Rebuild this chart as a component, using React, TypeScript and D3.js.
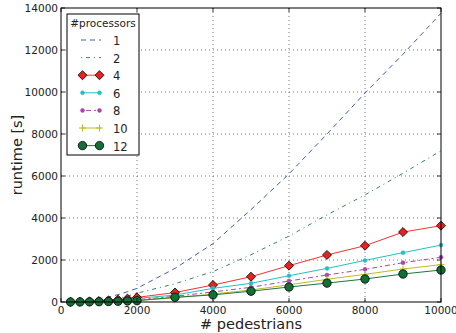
import React from 'react';
import * as d3 from 'd3';

// # pedestrians
const pedestrians = [250, 500, 750, 1000, 1250, 1500, 1750, 2000, 3000, 4000, 5000, 6000, 7000, 8000, 9000, 10000];

// runtime [s] per processor count
const p1 = [10, 35, 80, 150, 240, 350, 490, 650, 1600, 2780, 4400, 6100, 8000, 9950, 11800, 13750];
const p2 = [5, 18, 40, 70, 110, 170, 280, 420, 870, 1450, 2250, 3140, 4150, 5100, 6130, 7200];
const p4 = [5, 12, 25, 45, 75, 110, 160, 220, 450, 810, 1205, 1730, 2240, 2680, 3330, 3635];
const p6 = [4, 9, 18, 32, 50, 80, 120, 170, 330, 650, 890, 1250, 1600, 1980, 2350, 2710];
const p8 = [3, 7, 14, 25, 40, 60, 85, 110, 270, 480, 700, 1000, 1285, 1555, 1870, 2130];
const p10 = [2, 5, 10, 18, 30, 45, 62, 80, 200, 380, 570, 820, 1080, 1317, 1570, 1780];
const p12 = [2, 4, 8, 15, 25, 35, 50, 62, 224, 340, 515, 714, 900, 1095, 1333, 1524];

const xTicks = [0, 2000, 4000, 6000, 8000, 10000];
const yTicks = [0, 2000, 4000, 6000, 8000, 10000, 12000, 14000];

type Marker = 'none' | 'diamond' | 'dot' | 'plus' | 'circle';
const seriesList: { label: string; values: number[]; color: string; dash: string; marker: Marker; fill: string }[] = [
  { label: '1', values: p1, color: '#3f5db5', dash: '5,4', marker: 'none', fill: '' },
  { label: '2', values: p2, color: '#2e8b57', dash: '1,4,4,4', marker: 'none', fill: '' },
  { label: '4', values: p4, color: '#ff3030', dash: '', marker: 'diamond', fill: '#e82020' },
  { label: '6', values: p6, color: '#22c0c0', dash: '', marker: 'dot', fill: '#22c0c0' },
  { label: '8', values: p8, color: '#aa44aa', dash: '2,3,5,3', marker: 'dot', fill: '#aa44aa' },
  { label: '10', values: p10, color: '#bcbc22', dash: '', marker: 'plus', fill: '#bcbc22' },
  { label: '12', values: p12, color: '#1b7a3a', dash: '', marker: 'circle', fill: '#117035' },
];

const W = 456;
const H = 333;
const left = 61;
const right = 441;
const top = 8;
const bottom = 302;
const font = 'DejaVu Sans, sans-serif';

function MarkerShape({ type, x, y, color, fill }: { type: Marker; x: number; y: number; color: string; fill: string }) {
  if (type === 'diamond') {
    const p = d3.symbol(d3.symbolDiamond2, 52)();
    return <path d={p as string} transform={`translate(${x},${y})`} fill={fill} stroke="#000" strokeWidth={0.8} />;
  }
  if (type === 'circle') return <circle cx={x} cy={y} r={4.2} fill={fill} stroke="#000" strokeWidth={0.8} />;
  if (type === 'dot') return <circle cx={x} cy={y} r={2} fill={fill} stroke={fill} strokeWidth={0.5} />;
  if (type === 'plus')
    return (
      <g stroke={color} strokeWidth={1}>
        <line x1={x - 3.5} x2={x + 3.5} y1={y} y2={y} />
        <line x1={x} x2={x} y1={y - 3.5} y2={y + 3.5} />
      </g>
    );
  return null;
}

export default function App() {
  const x = d3.scaleLinear().domain([0, 10000]).range([left, right]);
  const y = d3.scaleLinear().domain([0, 14000]).range([bottom, top]);
  const line = d3
    .line<number>()
    .x((_, i) => x(pedestrians[i]))
    .y((d) => y(d));

  const legX = 67;
  const legY = 14;
  const rowH = 17.6;

  return (
    <div style={{ position: 'absolute', left: 0, top: 0 }}>
      <svg width={W} height={H} style={{ display: 'block', background: '#fff' }} fontFamily={font}>
        {/* grid */}
        <g stroke="#555" strokeWidth={0.8} strokeDasharray="1,3">
          {xTicks.slice(1, -1).map((t) => (
            <line key={'gx' + t} x1={x(t)} x2={x(t)} y1={top} y2={bottom} />
          ))}
          {yTicks.slice(1, -1).map((t) => (
            <line key={'gy' + t} x1={left} x2={right} y1={y(t)} y2={y(t)} />
          ))}
        </g>

        {/* series */}
        <g clipPath="url(#clip)">
          {seriesList.map((s) => (
            <path key={s.label} d={line(s.values) as string} fill="none" stroke={s.color} strokeWidth={1} strokeDasharray={s.dash || undefined} />
          ))}
          {seriesList.map((s) =>
            s.values.map((v, i) => (
              <MarkerShape key={s.label + '-' + i} type={s.marker} x={x(pedestrians[i])} y={y(v)} color={s.color} fill={s.fill} />
            ))
          )}
        </g>
        <defs>
          <clipPath id="clip">
            <rect x={left - 6} y={top} width={right - left + 12} height={bottom - top + 6} />
          </clipPath>
        </defs>

        {/* ticks */}
        <g stroke="#000" strokeWidth={0.8}>
          {xTicks.map((t) => (
            <g key={'tx' + t}>
              <line x1={x(t)} x2={x(t)} y1={bottom} y2={bottom - 4} />
              <line x1={x(t)} x2={x(t)} y1={top} y2={top + 4} />
            </g>
          ))}
          {yTicks.map((t) => (
            <g key={'ty' + t}>
              <line x1={left} x2={left + 4} y1={y(t)} y2={y(t)} />
              <line x1={right} x2={right - 4} y1={y(t)} y2={y(t)} />
            </g>
          ))}
        </g>
        <rect x={left} y={top} width={right - left} height={bottom - top} fill="none" stroke="#000" strokeWidth={1} />

        {/* tick labels */}
        <g fontSize={10.5} fill="#222">
          {xTicks.map((t) => (
            <text key={'lx' + t} x={x(t)} y={bottom + 12} textAnchor="middle">
              {t}
            </text>
          ))}
          {yTicks.map((t) => (
            <text key={'ly' + t} x={left - 3} y={y(t) + 4} textAnchor="end">
              {t}
            </text>
          ))}
        </g>

        {/* axis titles */}
        <text x={(left + right) / 2} y={329} textAnchor="middle" fontSize={14.5} fill="#222">
          # pedestrians
        </text>
        <text transform={`translate(22,${(top + bottom) / 2}) rotate(-90)`} textAnchor="middle" fontSize={14.5} fill="#222">
          runtime [s]
        </text>

        {/* legend */}
        <g>
          <rect x={legX} y={legY} width={72} height={141} fill="#fff" stroke="#000" strokeWidth={1} />
          <text x={legX + 36} y={legY + 13} textAnchor="middle" fontSize={10.5} fill="#222">
            #processors
          </text>
          {seriesList.map((s, i) => {
            const cy = legY + 26 + i * rowH;
            return (
              <g key={'leg' + s.label}>
                <line x1={81} x2={101} y1={cy} y2={cy} stroke={s.color} strokeWidth={1} strokeDasharray={s.dash || undefined} />
                {s.marker !== 'none' && (
                  <>
                    <MarkerShape type={s.marker} x={82.5} y={cy} color={s.color} fill={s.fill} />
                    <MarkerShape type={s.marker} x={99.5} y={cy} color={s.color} fill={s.fill} />
                  </>
                )}
                <text x={113} y={cy + 5} fontSize={11.5} fill="#222">
                  {s.label}
                </text>
              </g>
            );
          })}
        </g>
      </svg>
    </div>
  );
}
